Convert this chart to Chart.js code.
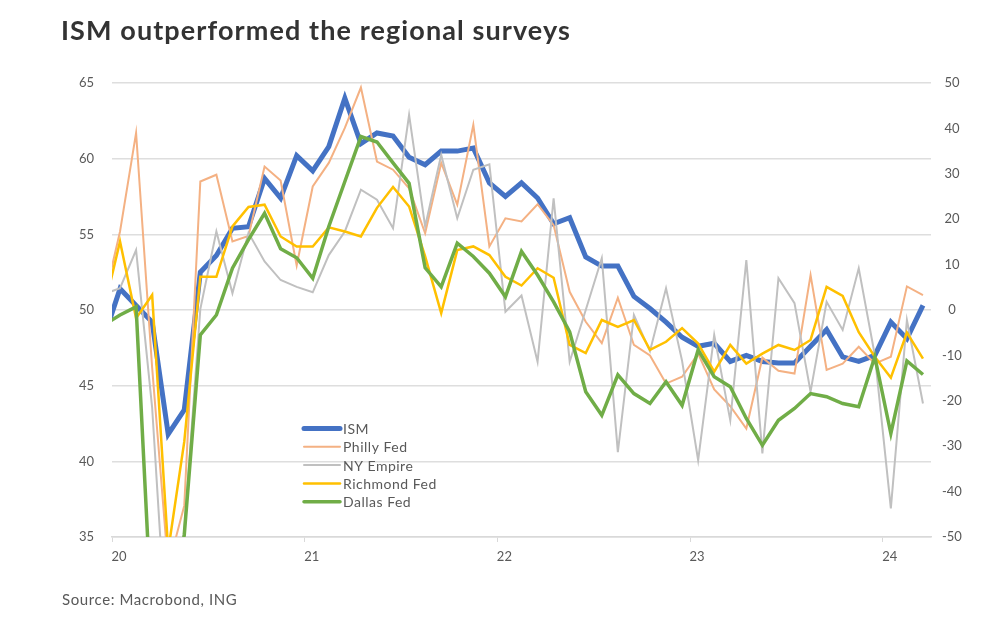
<!DOCTYPE html>
<html>
<head>
<meta charset="utf-8">
<script src="https://cdn.jsdelivr.net/npm/chart.js@4.4.1/dist/chart.umd.min.js"></script>
<style>
  body { margin: 0; background: #fff; }
  #wrap { position: relative; width: 1000px; height: 626px; }
  #title { position: absolute; left: 61px; top: 13px; font: bold 27px "Lato", sans-serif; letter-spacing: 1.1px; color: #333; }
  #source { position: absolute; left: 62px; top: 590px; font: 15px "Lato", sans-serif; letter-spacing: 0.6px; color: #595959; }
</style>
</head>
<body>
<div id="wrap">
  <canvas id="chart" width="1000" height="626"></canvas>
  <div id="title">ISM outperformed the regional surveys</div>
  <div id="source">Source: Macrobond, ING</div>
</div>
<script>
// monthly, Dec 2019 .. Mar 2024 (Dec 2019 only feeds the clipped first segment)
const months = [];
for (let y = 2019; y <= 2024; y++) {
    for (let m = 1; m <= 12; m++) {
        if ((y === 2019 && m < 12) || (y === 2024 && m > 3)) continue;
        months.push(y + "-" + String(m).padStart(2, "0"));
    }
}
const yearTicks = [0, 12, 24, 36, 48];
const yearLabels = ["20", "21", "22", "23", "24"];

// left axis
const ism = [48.2, 51.4, 50.3, 49.2, 41.8, 43.4, 52.5, 53.6, 55.4, 55.5, 58.7, 57.4, 60.2,
    59.2, 60.8, 64.0, 61.0, 61.7, 61.5, 60.1, 59.6, 60.5, 60.5, 60.7, 58.4,
    57.5, 58.4, 57.4, 55.7, 56.1, 53.5, 52.9, 52.9, 50.9, 50.1, 49.2, 48.2,
    47.6, 47.8, 46.6, 47.0, 46.6, 46.5, 46.5, 47.6, 48.7, 46.9, 46.6, 47.0,
    49.2, 48.1, 50.3];
// right axis
const philly = [2.0, 17.3, 39.0, -12.7, -56.6, -43.1, 28.3, 29.8, 15.1, 16.3, 31.6, 28.5, 9.8,
    27.2, 32.4, 40.1, 49.0, 32.7, 30.9, 26.8, 16.9, 32.4, 23.2, 40.8, 14.0,
    20.2, 19.5, 23.3, 18.7, 4.0, -2.6, -7.3, 2.7, -7.7, -10.0, -16.2, -14.7,
    -9.6, -17.5, -21.2, -26.1, -10.5, -13.4, -14.0, 7.7, -13.2, -11.8, -8.1, -11.8,
    -10.3, 5.2, 3.3];
const nyEmpire = [3.5, 4.8, 13.2, -21.5, -78.2, -48.5, 0.2, 17.3, 3.7, 17.0, 10.7, 6.6, 5.1,
    3.9, 12.1, 17.3, 26.5, 24.3, 18.0, 43.0, 18.4, 34.2, 20.2, 30.9, 32.1,
    -0.4, 3.2, -11.4, 24.6, -11.4, 0.0, 11.4, -31.3, -1.1, -9.1, 4.8, -11.2,
    -33.1, -5.5, -24.3, 11.0, -31.6, 7.0, 1.5, -18.0, 1.8, -4.4, 9.2, -9.9,
    -43.7, -2.2, -20.6];
const richmond = [0.2, 15.1, -1.8, 3.3, -53.0, -29.0, 7.3, 7.3, 18.4, 22.7, 23.2, 16.2, 14.0,
    14.0, 18.2, 17.3, 16.2, 22.5, 27.1, 22.8, 11.8, -0.7, 13.2, 14.0, 12.1,
    7.3, 5.4, 9.2, 7.1, -7.7, -9.5, -2.2, -3.7, -2.2, -8.8, -7.0, -4.0,
    -7.4, -13.6, -7.7, -11.8, -9.6, -7.7, -8.8, -6.6, 5.1, 3.1, -4.9, -10.3,
    -14.9, -5.0, -10.7];
const dallas = [-3.3, -1.1, 0.7, -70.0, -73.7, -49.5, -5.5, -1.1, 9.2, 15.5, 21.3, 13.5, 11.5,
    7.0, 18.4, 28.3, 38.2, 37.0, 32.4, 27.9, 9.3, 5.1, 14.7, 11.8, 8.1,
    2.9, 12.9, 7.7, 1.8, -4.8, -18.0, -23.2, -14.3, -18.4, -20.6, -15.8, -21.0,
    -8.8, -14.7, -16.9, -23.9, -29.8, -24.3, -21.7, -18.4, -19.1, -20.6, -21.3, -10.3,
    -27.2, -11.2, -14.2];

// points sit mid-month, ticks at 1 Jan
const pts = arr => arr.map((v, i) => ({ x: i - 0.5, y: v }));

const series = [
    { label: "ISM", data: ism, color: "#4472C4", width: 5, axis: "yL" },
    { label: "Philly Fed", data: philly, color: "#F4B183", width: 2, axis: "yR" },
    { label: "NY Empire", data: nyEmpire, color: "#C0C0C0", width: 2, axis: "yR" },
    { label: "Richmond Fed", data: richmond, color: "#FFC000", width: 2.5, axis: "yR" },
    { label: "Dallas Fed", data: dallas, color: "#70AD47", width: 3.5, axis: "yR" },
];

// legend sits inside the plot, drawn by hand
const legendInside = {
    id: "legendInside",
    afterDatasetsDraw(chart) {
        const ctx = chart.ctx;
        ctx.save();
        ctx.font = "14px Lato, sans-serif";
        ctx.letterSpacing = "0.5px";
        ctx.textBaseline = "middle";
        ctx.lineCap = "round";
        chart.data.datasets.forEach((ds, i) => {
            const y = 428.5 + i * 18.3;
            ctx.strokeStyle = ds.borderColor;
            ctx.lineWidth = ds.borderWidth;
            ctx.beginPath();
            ctx.moveTo(304, y);
            ctx.lineTo(340, y);
            ctx.stroke();
            ctx.fillStyle = "#595959";
            ctx.fillText(ds.label, 343, y + 1);
        });
        ctx.restore();
    }
};

const tickFont = { family: "Lato", size: 13 };

new Chart(document.getElementById("chart"), {
    type: "line",
    data: {
        datasets: series.map((s, i) => ({
            label: s.label,
            data: pts(s.data),
            borderColor: s.color,
            borderWidth: s.width,
            yAxisID: s.axis,
            pointRadius: 0,
            tension: 0,
            order: series.length - i, // later series drawn on top
        })),
    },
    options: {
        responsive: false,
        animation: false,
        layout: { padding: { top: 83, left: 0, right: 0, bottom: 0 } },
        plugins: { legend: { display: false }, tooltip: { enabled: false } },
        scales: {
            x: {
                type: "linear",
                min: 0,
                max: 51,
                afterBuildTicks: s => { s.ticks = yearTicks.map(v => ({ value: v })); },
                afterFit: s => { s.height = 89; },
                grid: { drawOnChartArea: false, drawTicks: true, tickLength: 5, color: "#d9d9d9" },
                border: { display: true, color: "#d9d9d9", width: 1.5 },
                ticks: {
                    color: "#595959", font: tickFont, padding: 7, labelOffset: 7,
                    maxRotation: 0, autoSkip: false,
                    callback: v => yearLabels[yearTicks.indexOf(v)],
                },
            },
            yL: {
                position: "left",
                min: 35, max: 65,
                afterFit: s => { s.width = 112; },
                grid: { color: "#dedede", lineWidth: 1.5, drawTicks: false },
                border: { display: false },
                ticks: { stepSize: 5, color: "#595959", font: tickFont, padding: 18 },
            },
            yR: {
                position: "right",
                min: -50, max: 50,
                afterFit: s => { s.width = 69; },
                grid: { drawOnChartArea: false, drawTicks: false },
                border: { display: false },
                ticks: { stepSize: 10, color: "#595959", font: tickFont, padding: 11, crossAlign: "center" },
            },
        },
    },
    plugins: [legendInside],
});
</script>
</body>
</html>
